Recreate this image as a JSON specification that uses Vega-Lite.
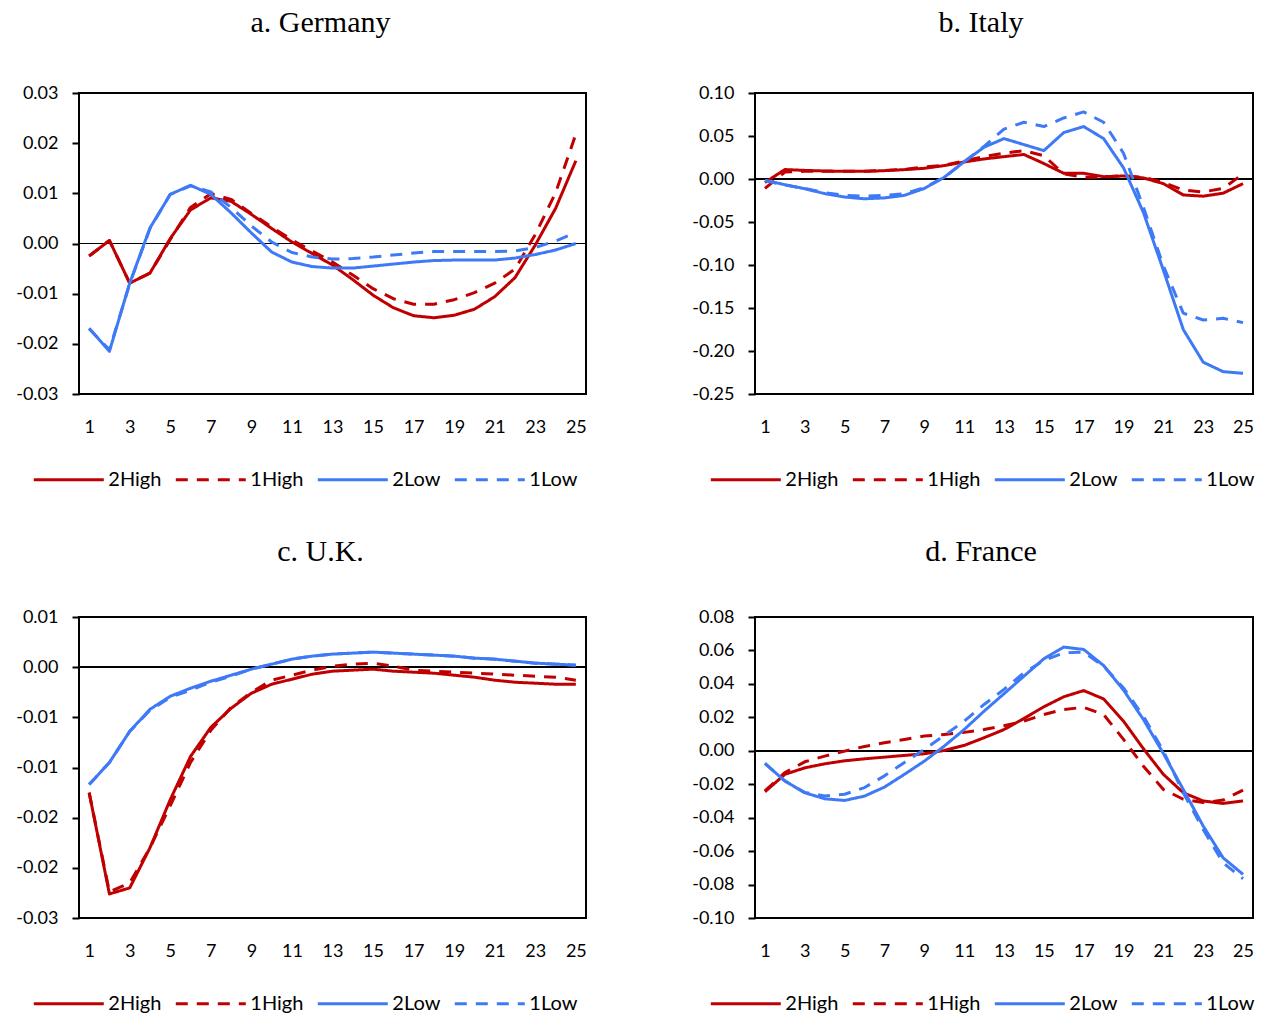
{
"$schema": "https://vega.github.io/schema/vega-lite/v6.json",
"background": "white",
"padding": {"left": 14, "top": 7, "right": 8, "bottom": 2},
"config": {
 "font": "Lato",
 "view": {"stroke": "black", "strokeWidth": 2},
 "axis": {"labelFont": "Lato", "labelFontSize": 18, "labelColor": "black", "grid": false, "domain": false, "title": null, "labelOverlap": false},
 "axisY": {"tickColor": "black", "tickSize": 7, "tickWidth": 2, "labelPadding": 14, "labelOverlap": false, "tickCount": 12},
 "axisX": {"ticks": false, "labelPadding": 24},
 "title": {"font": "Liberation Serif", "fontSize": 30, "fontWeight": "normal", "color": "black", "anchor": "middle", "frame": "group"},
 "legend": {"title": null, "orient": "none", "direction": "horizontal", "symbolType": "M-3,0H3", "symbolSize": 544.4, "symbolStrokeWidth": 3, "labelFont": "Lato", "labelFontSize": 20, "labelColor": "black", "labelOffset": 26, "columnPadding": 12, "legendY": 373},
 "line": {"strokeWidth": 3, "strokeJoin": "round"}
},
"datasets": {
 "germany": [
  {"t":1,"s":"2High","v":-0.0025},{"t":2,"s":"2High","v":0.0006},{"t":3,"s":"2High","v":-0.0079},{"t":4,"s":"2High","v":-0.0059},{"t":5,"s":"2High","v":0.0010},{"t":6,"s":"2High","v":0.0067},{"t":7,"s":"2High","v":0.0091},{"t":8,"s":"2High","v":0.0084},{"t":9,"s":"2High","v":0.0058},{"t":10,"s":"2High","v":0.0030},{"t":11,"s":"2High","v":0.0003},{"t":12,"s":"2High","v":-0.0020},{"t":13,"s":"2High","v":-0.0043},{"t":14,"s":"2High","v":-0.0072},{"t":15,"s":"2High","v":-0.0103},{"t":16,"s":"2High","v":-0.0128},{"t":17,"s":"2High","v":-0.0144},{"t":18,"s":"2High","v":-0.0148},{"t":19,"s":"2High","v":-0.0143},{"t":20,"s":"2High","v":-0.0131},{"t":21,"s":"2High","v":-0.0106},{"t":22,"s":"2High","v":-0.0068},{"t":23,"s":"2High","v":-0.0003},{"t":24,"s":"2High","v":0.0070},{"t":25,"s":"2High","v":0.0165},
  {"t":1,"s":"1High","v":-0.0025},{"t":2,"s":"1High","v":0.0006},{"t":3,"s":"1High","v":-0.0079},{"t":4,"s":"1High","v":-0.0059},{"t":5,"s":"1High","v":0.0008},{"t":6,"s":"1High","v":0.0072},{"t":7,"s":"1High","v":0.0099},{"t":8,"s":"1High","v":0.0088},{"t":9,"s":"1High","v":0.0060},{"t":10,"s":"1High","v":0.0033},{"t":11,"s":"1High","v":0.0007},{"t":12,"s":"1High","v":-0.0015},{"t":13,"s":"1High","v":-0.0037},{"t":14,"s":"1High","v":-0.0063},{"t":15,"s":"1High","v":-0.0090},{"t":16,"s":"1High","v":-0.0110},{"t":17,"s":"1High","v":-0.0121},{"t":18,"s":"1High","v":-0.0121},{"t":19,"s":"1High","v":-0.0112},{"t":20,"s":"1High","v":-0.0098},{"t":21,"s":"1High","v":-0.0079},{"t":22,"s":"1High","v":-0.0051},{"t":23,"s":"1High","v":0.0018},{"t":24,"s":"1High","v":0.0101},{"t":25,"s":"1High","v":0.0218},
  {"t":1,"s":"2Low","v":-0.0169},{"t":2,"s":"2Low","v":-0.0215},{"t":3,"s":"2Low","v":-0.0079},{"t":4,"s":"2Low","v":0.0031},{"t":5,"s":"2Low","v":0.0098},{"t":6,"s":"2Low","v":0.0116},{"t":7,"s":"2Low","v":0.0098},{"t":8,"s":"2Low","v":0.0061},{"t":9,"s":"2Low","v":0.0021},{"t":10,"s":"2Low","v":-0.0017},{"t":11,"s":"2Low","v":-0.0037},{"t":12,"s":"2Low","v":-0.0046},{"t":13,"s":"2Low","v":-0.0049},{"t":14,"s":"2Low","v":-0.0049},{"t":15,"s":"2Low","v":-0.0045},{"t":16,"s":"2Low","v":-0.0041},{"t":17,"s":"2Low","v":-0.0037},{"t":18,"s":"2Low","v":-0.0034},{"t":19,"s":"2Low","v":-0.0033},{"t":20,"s":"2Low","v":-0.0033},{"t":21,"s":"2Low","v":-0.0033},{"t":22,"s":"2Low","v":-0.0029},{"t":23,"s":"2Low","v":-0.0022},{"t":24,"s":"2Low","v":-0.0013},{"t":25,"s":"2Low","v":0.0000},
  {"t":1,"s":"1Low","v":-0.0170},{"t":2,"s":"1Low","v":-0.0212},{"t":3,"s":"1Low","v":-0.0080},{"t":4,"s":"1Low","v":0.0030},{"t":5,"s":"1Low","v":0.0098},{"t":6,"s":"1Low","v":0.0115},{"t":7,"s":"1Low","v":0.0103},{"t":8,"s":"1Low","v":0.0072},{"t":9,"s":"1Low","v":0.0035},{"t":10,"s":"1Low","v":0.0003},{"t":11,"s":"1Low","v":-0.0018},{"t":12,"s":"1Low","v":-0.0027},{"t":13,"s":"1Low","v":-0.0031},{"t":14,"s":"1Low","v":-0.0030},{"t":15,"s":"1Low","v":-0.0027},{"t":16,"s":"1Low","v":-0.0023},{"t":17,"s":"1Low","v":-0.0019},{"t":18,"s":"1Low","v":-0.0016},{"t":19,"s":"1Low","v":-0.0016},{"t":20,"s":"1Low","v":-0.0016},{"t":21,"s":"1Low","v":-0.0016},{"t":22,"s":"1Low","v":-0.0015},{"t":23,"s":"1Low","v":-0.0008},{"t":24,"s":"1Low","v":0.0005},{"t":25,"s":"1Low","v":0.0022}
 ],
 "italy": [
  {"t":1,"s":"2High","v":-0.004},{"t":2,"s":"2High","v":0.011},{"t":3,"s":"2High","v":0.010},{"t":4,"s":"2High","v":0.0093},{"t":5,"s":"2High","v":0.0089},{"t":6,"s":"2High","v":0.0089},{"t":7,"s":"2High","v":0.0097},{"t":8,"s":"2High","v":0.0109},{"t":9,"s":"2High","v":0.0124},{"t":10,"s":"2High","v":0.0156},{"t":11,"s":"2High","v":0.0198},{"t":12,"s":"2High","v":0.0233},{"t":13,"s":"2High","v":0.026},{"t":14,"s":"2High","v":0.0285},{"t":15,"s":"2High","v":0.018},{"t":16,"s":"2High","v":0.0066},{"t":17,"s":"2High","v":0.0066},{"t":18,"s":"2High","v":0.0027},{"t":19,"s":"2High","v":0.0035},{"t":20,"s":"2High","v":0.0012},{"t":21,"s":"2High","v":-0.0054},{"t":22,"s":"2High","v":-0.0185},{"t":23,"s":"2High","v":-0.020},{"t":24,"s":"2High","v":-0.0165},{"t":25,"s":"2High","v":-0.0054},
  {"t":1,"s":"1High","v":-0.011},{"t":2,"s":"1High","v":0.008},{"t":3,"s":"1High","v":0.009},{"t":4,"s":"1High","v":0.009},{"t":5,"s":"1High","v":0.009},{"t":6,"s":"1High","v":0.009},{"t":7,"s":"1High","v":0.010},{"t":8,"s":"1High","v":0.011},{"t":9,"s":"1High","v":0.014},{"t":10,"s":"1High","v":0.016},{"t":11,"s":"1High","v":0.021},{"t":12,"s":"1High","v":0.026},{"t":13,"s":"1High","v":0.030},{"t":14,"s":"1High","v":0.033},{"t":15,"s":"1High","v":0.027},{"t":16,"s":"1High","v":0.006},{"t":17,"s":"1High","v":0.002},{"t":18,"s":"1High","v":0.002},{"t":19,"s":"1High","v":0.004},{"t":20,"s":"1High","v":0.002},{"t":21,"s":"1High","v":-0.004},{"t":22,"s":"1High","v":-0.013},{"t":23,"s":"1High","v":-0.015},{"t":24,"s":"1High","v":-0.011},{"t":25,"s":"1High","v":0.006},
  {"t":1,"s":"2Low","v":-0.0016},{"t":2,"s":"2Low","v":-0.0066},{"t":3,"s":"2Low","v":-0.0113},{"t":4,"s":"2Low","v":-0.017},{"t":5,"s":"2Low","v":-0.021},{"t":6,"s":"2Low","v":-0.023},{"t":7,"s":"2Low","v":-0.022},{"t":8,"s":"2Low","v":-0.019},{"t":9,"s":"2Low","v":-0.011},{"t":10,"s":"2Low","v":0.002},{"t":11,"s":"2Low","v":0.020},{"t":12,"s":"2Low","v":0.037},{"t":13,"s":"2Low","v":0.047},{"t":14,"s":"2Low","v":0.040},{"t":15,"s":"2Low","v":0.033},{"t":16,"s":"2Low","v":0.054},{"t":17,"s":"2Low","v":0.061},{"t":18,"s":"2Low","v":0.047},{"t":19,"s":"2Low","v":0.013},{"t":20,"s":"2Low","v":-0.039},{"t":21,"s":"2Low","v":-0.106},{"t":22,"s":"2Low","v":-0.175},{"t":23,"s":"2Low","v":-0.213},{"t":24,"s":"2Low","v":-0.224},{"t":25,"s":"2Low","v":-0.226},
  {"t":1,"s":"1Low","v":-0.002},{"t":2,"s":"1Low","v":-0.007},{"t":3,"s":"1Low","v":-0.011},{"t":4,"s":"1Low","v":-0.016},{"t":5,"s":"1Low","v":-0.019},{"t":6,"s":"1Low","v":-0.020},{"t":7,"s":"1Low","v":-0.019},{"t":8,"s":"1Low","v":-0.017},{"t":9,"s":"1Low","v":-0.010},{"t":10,"s":"1Low","v":0.002},{"t":11,"s":"1Low","v":0.020},{"t":12,"s":"1Low","v":0.038},{"t":13,"s":"1Low","v":0.058},{"t":14,"s":"1Low","v":0.066},{"t":15,"s":"1Low","v":0.061},{"t":16,"s":"1Low","v":0.071},{"t":17,"s":"1Low","v":0.078},{"t":18,"s":"1Low","v":0.066},{"t":19,"s":"1Low","v":0.030},{"t":20,"s":"1Low","v":-0.033},{"t":21,"s":"1Low","v":-0.101},{"t":22,"s":"1Low","v":-0.156},{"t":23,"s":"1Low","v":-0.164},{"t":24,"s":"1Low","v":-0.162},{"t":25,"s":"1Low","v":-0.167}
 ],
 "uk": [
  {"t":1,"s":"2High","v":-0.0125},{"t":2,"s":"2High","v":-0.0226},{"t":3,"s":"2High","v":-0.0220},{"t":4,"s":"2High","v":-0.0180},{"t":5,"s":"2High","v":-0.0132},{"t":6,"s":"2High","v":-0.0089},{"t":7,"s":"2High","v":-0.0060},{"t":8,"s":"2High","v":-0.0041},{"t":9,"s":"2High","v":-0.0026},{"t":10,"s":"2High","v":-0.0017},{"t":11,"s":"2High","v":-0.0012},{"t":12,"s":"2High","v":-0.0007},{"t":13,"s":"2High","v":-0.0004},{"t":14,"s":"2High","v":-0.0003},{"t":15,"s":"2High","v":-0.0002},{"t":16,"s":"2High","v":-0.0004},{"t":17,"s":"2High","v":-0.0005},{"t":18,"s":"2High","v":-0.0006},{"t":19,"s":"2High","v":-0.0008},{"t":20,"s":"2High","v":-0.0010},{"t":21,"s":"2High","v":-0.0013},{"t":22,"s":"2High","v":-0.0015},{"t":23,"s":"2High","v":-0.0016},{"t":24,"s":"2High","v":-0.0017},{"t":25,"s":"2High","v":-0.0017},
  {"t":1,"s":"1High","v":-0.0125},{"t":2,"s":"1High","v":-0.0224},{"t":3,"s":"1High","v":-0.0215},{"t":4,"s":"1High","v":-0.0180},{"t":5,"s":"1High","v":-0.0138},{"t":6,"s":"1High","v":-0.0095},{"t":7,"s":"1High","v":-0.0063},{"t":8,"s":"1High","v":-0.0040},{"t":9,"s":"1High","v":-0.0025},{"t":10,"s":"1High","v":-0.0013},{"t":11,"s":"1High","v":-0.0008},{"t":12,"s":"1High","v":-0.0003},{"t":13,"s":"1High","v":0.0001},{"t":14,"s":"1High","v":0.0003},{"t":15,"s":"1High","v":0.0004},{"t":16,"s":"1High","v":0.0001},{"t":17,"s":"1High","v":-0.0003},{"t":18,"s":"1High","v":-0.0004},{"t":19,"s":"1High","v":-0.0005},{"t":20,"s":"1High","v":-0.0006},{"t":21,"s":"1High","v":-0.0007},{"t":22,"s":"1High","v":-0.0008},{"t":23,"s":"1High","v":-0.0009},{"t":24,"s":"1High","v":-0.0010},{"t":25,"s":"1High","v":-0.0013},
  {"t":1,"s":"2Low","v":-0.0117},{"t":2,"s":"2Low","v":-0.0095},{"t":3,"s":"2Low","v":-0.0064},{"t":4,"s":"2Low","v":-0.0042},{"t":5,"s":"2Low","v":-0.0029},{"t":6,"s":"2Low","v":-0.0021},{"t":7,"s":"2Low","v":-0.0014},{"t":8,"s":"2Low","v":-0.0008},{"t":9,"s":"2Low","v":-0.0002},{"t":10,"s":"2Low","v":0.0003},{"t":11,"s":"2Low","v":0.0008},{"t":12,"s":"2Low","v":0.0011},{"t":13,"s":"2Low","v":0.0013},{"t":14,"s":"2Low","v":0.0014},{"t":15,"s":"2Low","v":0.0015},{"t":16,"s":"2Low","v":0.0014},{"t":17,"s":"2Low","v":0.0013},{"t":18,"s":"2Low","v":0.0012},{"t":19,"s":"2Low","v":0.0011},{"t":20,"s":"2Low","v":0.0009},{"t":21,"s":"2Low","v":0.0008},{"t":22,"s":"2Low","v":0.0006},{"t":23,"s":"2Low","v":0.0004},{"t":24,"s":"2Low","v":0.0003},{"t":25,"s":"2Low","v":0.0002},
  {"t":1,"s":"1Low","v":-0.0117},{"t":2,"s":"1Low","v":-0.0095},{"t":3,"s":"1Low","v":-0.0064},{"t":4,"s":"1Low","v":-0.0043},{"t":5,"s":"1Low","v":-0.0030},{"t":6,"s":"1Low","v":-0.0023},{"t":7,"s":"1Low","v":-0.0015},{"t":8,"s":"1Low","v":-0.0009},{"t":9,"s":"1Low","v":-0.0002},{"t":10,"s":"1Low","v":0.0003},{"t":11,"s":"1Low","v":0.0008},{"t":12,"s":"1Low","v":0.0011},{"t":13,"s":"1Low","v":0.0013},{"t":14,"s":"1Low","v":0.0014},{"t":15,"s":"1Low","v":0.0015},{"t":16,"s":"1Low","v":0.0014},{"t":17,"s":"1Low","v":0.0013},{"t":18,"s":"1Low","v":0.0012},{"t":19,"s":"1Low","v":0.0011},{"t":20,"s":"1Low","v":0.0009},{"t":21,"s":"1Low","v":0.0008},{"t":22,"s":"1Low","v":0.0006},{"t":23,"s":"1Low","v":0.0004},{"t":24,"s":"1Low","v":0.0003},{"t":25,"s":"1Low","v":0.0002}
 ],
 "france": [
  {"t":1,"s":"2High","v":-0.0245},{"t":2,"s":"2High","v":-0.0141},{"t":3,"s":"2High","v":-0.0102},{"t":4,"s":"2High","v":-0.0078},{"t":5,"s":"2High","v":-0.0060},{"t":6,"s":"2High","v":-0.0048},{"t":7,"s":"2High","v":-0.0038},{"t":8,"s":"2High","v":-0.0028},{"t":9,"s":"2High","v":-0.0018},{"t":10,"s":"2High","v":0.0002},{"t":11,"s":"2High","v":0.0032},{"t":12,"s":"2High","v":0.0078},{"t":13,"s":"2High","v":0.0127},{"t":14,"s":"2High","v":0.0193},{"t":15,"s":"2High","v":0.0263},{"t":16,"s":"2High","v":0.0323},{"t":17,"s":"2High","v":0.0360},{"t":18,"s":"2High","v":0.0310},{"t":19,"s":"2High","v":0.0177},{"t":20,"s":"2High","v":0.0012},{"t":21,"s":"2High","v":-0.0141},{"t":22,"s":"2High","v":-0.0251},{"t":23,"s":"2High","v":-0.0300},{"t":24,"s":"2High","v":-0.0315},{"t":25,"s":"2High","v":-0.0300},
  {"t":1,"s":"1High","v":-0.0240},{"t":2,"s":"1High","v":-0.0130},{"t":3,"s":"1High","v":-0.0066},{"t":4,"s":"1High","v":-0.0032},{"t":5,"s":"1High","v":-0.0002},{"t":6,"s":"1High","v":0.0026},{"t":7,"s":"1High","v":0.0048},{"t":8,"s":"1High","v":0.0068},{"t":9,"s":"1High","v":0.0088},{"t":10,"s":"1High","v":0.0098},{"t":11,"s":"1High","v":0.0110},{"t":12,"s":"1High","v":0.0127},{"t":13,"s":"1High","v":0.0150},{"t":14,"s":"1High","v":0.0177},{"t":15,"s":"1High","v":0.0217},{"t":16,"s":"1High","v":0.0247},{"t":17,"s":"1High","v":0.0260},{"t":18,"s":"1High","v":0.0217},{"t":19,"s":"1High","v":0.0068},{"t":20,"s":"1High","v":-0.0092},{"t":21,"s":"1High","v":-0.0231},{"t":22,"s":"1High","v":-0.0290},{"t":23,"s":"1High","v":-0.0310},{"t":24,"s":"1High","v":-0.0295},{"t":25,"s":"1High","v":-0.0235},
  {"t":1,"s":"2Low","v":-0.0076},{"t":2,"s":"2Low","v":-0.0181},{"t":3,"s":"2Low","v":-0.0251},{"t":4,"s":"2Low","v":-0.0287},{"t":5,"s":"2Low","v":-0.0297},{"t":6,"s":"2Low","v":-0.0271},{"t":7,"s":"2Low","v":-0.0217},{"t":8,"s":"2Low","v":-0.0141},{"t":9,"s":"2Low","v":-0.0062},{"t":10,"s":"2Low","v":0.0028},{"t":11,"s":"2Low","v":0.0127},{"t":12,"s":"2Low","v":0.0237},{"t":13,"s":"2Low","v":0.0341},{"t":14,"s":"2Low","v":0.0446},{"t":15,"s":"2Low","v":0.0550},{"t":16,"s":"2Low","v":0.0620},{"t":17,"s":"2Low","v":0.0606},{"t":18,"s":"2Low","v":0.0510},{"t":19,"s":"2Low","v":0.0363},{"t":20,"s":"2Low","v":0.0187},{"t":21,"s":"2Low","v":-0.0016},{"t":22,"s":"2Low","v":-0.0231},{"t":23,"s":"2Low","v":-0.0450},{"t":24,"s":"2Low","v":-0.0640},{"t":25,"s":"2Low","v":-0.0739},
  {"t":1,"s":"1Low","v":-0.0076},{"t":2,"s":"1Low","v":-0.0180},{"t":3,"s":"1Low","v":-0.0250},{"t":4,"s":"1Low","v":-0.0270},{"t":5,"s":"1Low","v":-0.0260},{"t":6,"s":"1Low","v":-0.0220},{"t":7,"s":"1Low","v":-0.0150},{"t":8,"s":"1Low","v":-0.0070},{"t":9,"s":"1Low","v":0.0008},{"t":10,"s":"1Low","v":0.0092},{"t":11,"s":"1Low","v":0.0177},{"t":12,"s":"1Low","v":0.0277},{"t":13,"s":"1Low","v":0.0367},{"t":14,"s":"1Low","v":0.0466},{"t":15,"s":"1Low","v":0.0540},{"t":16,"s":"1Low","v":0.0586},{"t":17,"s":"1Low","v":0.0590},{"t":18,"s":"1Low","v":0.0506},{"t":19,"s":"1Low","v":0.0376},{"t":20,"s":"1Low","v":0.0207},{"t":21,"s":"1Low","v":-0.0002},{"t":22,"s":"1Low","v":-0.0251},{"t":23,"s":"1Low","v":-0.0470},{"t":24,"s":"1Low","v":-0.0670},{"t":25,"s":"1Low","v":-0.0765}
 ]
},
"spacing": 45,
"resolve": {"scale": {"color": "independent", "strokeDash": "independent"}, "legend": {"color": "independent", "strokeDash": "independent"}},
"vconcat": [
 {"hconcat": [
  {"title": {"text": "a. Germany", "dx": -12, "offset": 46}, "width": 507, "height": 301, "data": {"name": "germany"},
   "layer": [
    {"mark": {"type": "rule", "color": "black", "strokeWidth": 1}, "encoding": {"y": {"datum": 0, "type": "quantitative"}}},
    {"mark": {"type": "line"}, "encoding": {
     "x": {"field": "t", "type": "quantitative", "scale": {"domain": [0.5, 25.5], "nice": false, "zero": false}, "axis": {"values": [1,3,5,7,9,11,13,15,17,19,21,23,25], "format": "d", "tickCount": 30}},
     "y": {"field": "v", "type": "quantitative", "scale": {"domain": [-0.03, 0.03], "nice": false, "zero": false}, "axis": {"labelOverlap": false, "tickCount": 12, "values": [-0.03,-0.02,-0.01,0,0.01,0.02,0.03], "labelExpr": "replace(format(datum.value, '.2f'), '\u2212', '-')"}},
     "color": {"field": "s", "type": "nominal", "scale": {"domain": ["2High","1High","2Low","1Low"], "range": ["#C00000","#C00000","#3F7AF6","#3F7AF6"]}, "legend": {"legendX": -23.7, "legendY": 373}},
     "strokeDash": {"field": "s", "type": "nominal", "scale": {"domain": ["2High","1High","2Low","1Low"], "range": [[1,0],[12,9],[1,0],[12,9]]}, "legend": {"legendX": -23.7, "legendY": 373}}
    }}
   ]},
  {"title": {"text": "b. Italy", "dx": -23, "offset": 46}, "width": 498, "height": 301, "data": {"name": "italy"},
   "layer": [
    {"mark": {"type": "rule", "color": "black", "strokeWidth": 1}, "encoding": {"y": {"datum": 0, "type": "quantitative"}}},
    {"mark": {"type": "line"}, "encoding": {
     "x": {"field": "t", "type": "quantitative", "scale": {"domain": [0.5, 25.5], "nice": false, "zero": false}, "axis": {"values": [1,3,5,7,9,11,13,15,17,19,21,23,25], "format": "d", "tickCount": 30}},
     "y": {"field": "v", "type": "quantitative", "scale": {"domain": [-0.25, 0.10], "nice": false, "zero": false}, "axis": {"labelOverlap": false, "tickCount": 12, "values": [-0.25,-0.2,-0.15,-0.1,-0.05,0,0.05,0.1], "labelExpr": "replace(format(datum.value, '.2f'), '\u2212', '-')"}},
     "color": {"field": "s", "type": "nominal", "scale": {"domain": ["2High","1High","2Low","1Low"], "range": ["#C00000","#C00000","#3F7AF6","#3F7AF6"]}, "legend": {"legendX": -22.7, "legendY": 373}},
     "strokeDash": {"field": "s", "type": "nominal", "scale": {"domain": ["2High","1High","2Low","1Low"], "range": [[1,0],[12,9],[1,0],[12,9]]}, "legend": {"legendX": -22.7, "legendY": 373}}
    }}
   ]}
 ], "spacing": 102,
 "resolve": {"scale": {"color": "independent", "strokeDash": "independent"}, "legend": {"color": "independent", "strokeDash": "independent"}}},
 {"hconcat": [
  {"title": {"text": "c. U.K.", "dx": -12, "offset": 41}, "width": 507, "height": 301, "data": {"name": "uk"},
   "layer": [
    {"mark": {"type": "rule", "color": "black", "strokeWidth": 1}, "encoding": {"y": {"datum": 0, "type": "quantitative"}}},
    {"mark": {"type": "line"}, "encoding": {
     "x": {"field": "t", "type": "quantitative", "scale": {"domain": [0.5, 25.5], "nice": false, "zero": false}, "axis": {"values": [1,3,5,7,9,11,13,15,17,19,21,23,25], "format": "d", "tickCount": 30}},
     "y": {"field": "v", "type": "quantitative", "scale": {"domain": [-0.025, 0.005], "nice": false, "zero": false}, "axis": {"labelOverlap": false, "tickCount": 12, "values": [-0.025,-0.02,-0.015,-0.01,-0.005,0,0.005], "labelExpr": "replace(format(datum.value + (datum.value < 0 ? -0.0000001 : 0.0000001), '.2f'), '\u2212', '-')"}},
     "color": {"field": "s", "type": "nominal", "scale": {"domain": ["2High","1High","2Low","1Low"], "range": ["#C00000","#C00000","#3F7AF6","#3F7AF6"]}, "legend": {"legendX": -23.7, "legendY": 373}},
     "strokeDash": {"field": "s", "type": "nominal", "scale": {"domain": ["2High","1High","2Low","1Low"], "range": [[1,0],[12,9],[1,0],[12,9]]}, "legend": {"legendX": -23.7, "legendY": 373}}
    }}
   ]},
  {"title": {"text": "d. France", "dx": -23, "offset": 41}, "width": 498, "height": 301, "data": {"name": "france"},
   "layer": [
    {"mark": {"type": "rule", "color": "black", "strokeWidth": 1}, "encoding": {"y": {"datum": 0, "type": "quantitative"}}},
    {"mark": {"type": "line"}, "encoding": {
     "x": {"field": "t", "type": "quantitative", "scale": {"domain": [0.5, 25.5], "nice": false, "zero": false}, "axis": {"values": [1,3,5,7,9,11,13,15,17,19,21,23,25], "format": "d", "tickCount": 30}},
     "y": {"field": "v", "type": "quantitative", "scale": {"domain": [-0.10, 0.08], "nice": false, "zero": false}, "axis": {"labelOverlap": false, "tickCount": 12, "values": [-0.1,-0.08,-0.06,-0.04,-0.02,0,0.02,0.04,0.06,0.08], "labelExpr": "replace(format(datum.value, '.2f'), '\u2212', '-')"}},
     "color": {"field": "s", "type": "nominal", "scale": {"domain": ["2High","1High","2Low","1Low"], "range": ["#C00000","#C00000","#3F7AF6","#3F7AF6"]}, "legend": {"legendX": -22.7, "legendY": 373}},
     "strokeDash": {"field": "s", "type": "nominal", "scale": {"domain": ["2High","1High","2Low","1Low"], "range": [[1,0],[12,9],[1,0],[12,9]]}, "legend": {"legendX": -22.7, "legendY": 373}}
    }}
   ]}
 ], "spacing": 102,
 "resolve": {"scale": {"color": "independent", "strokeDash": "independent"}, "legend": {"color": "independent", "strokeDash": "independent"}}}
]
}
